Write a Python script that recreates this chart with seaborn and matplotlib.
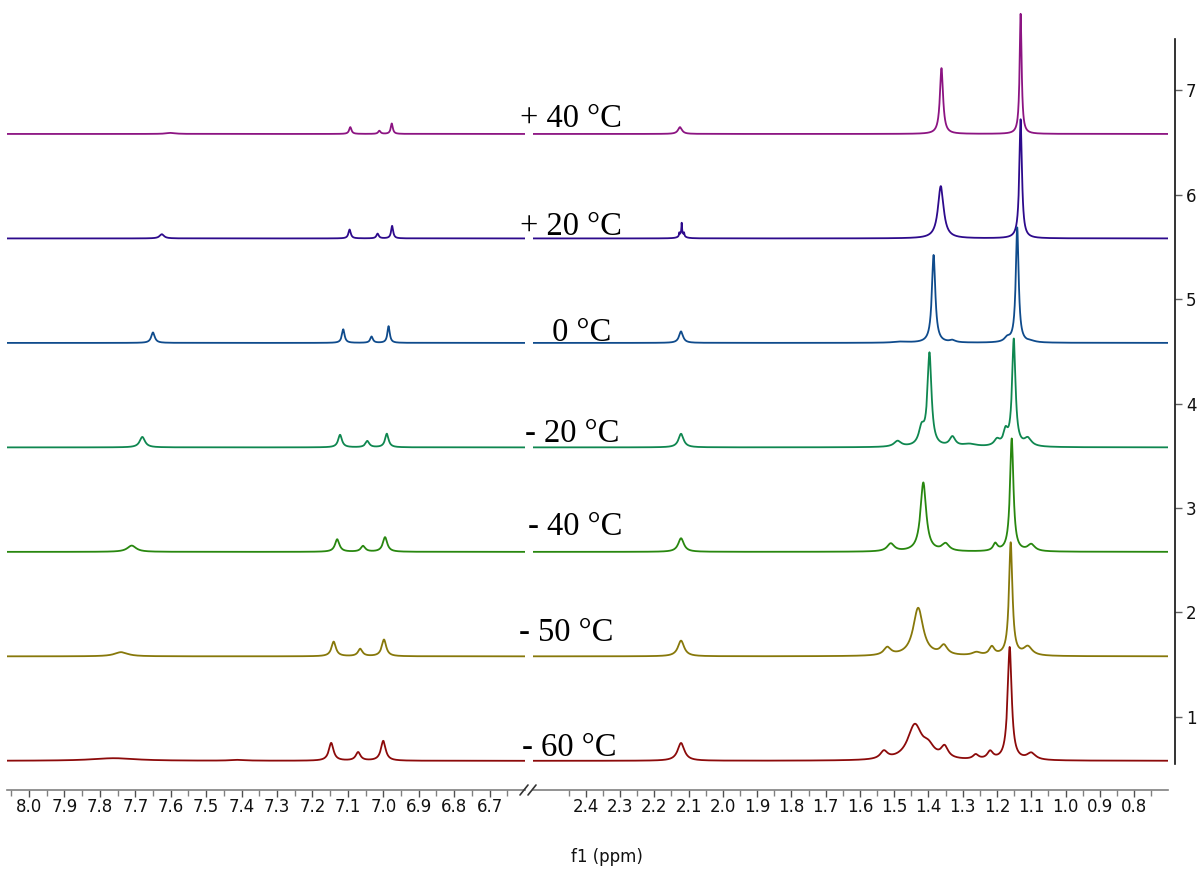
import numpy as np
import pandas as pd
import matplotlib
matplotlib.use("Agg")
import matplotlib.pyplot as plt
from matplotlib.lines import Line2D
from matplotlib.ticker import FixedLocator
import seaborn as sns

# ---------------- data ----------------
temps = ["+ 40 °C", "+ 20 °C", " 0 °C", "- 20 °C", "- 40 °C", "- 50 °C", "- 60 °C"]
offsets = [6.58, 5.58, 4.58, 3.58, 2.58, 1.58, 0.58]
colors = ["#8c1482", "#2d0a8c", "#0f4b8c", "#0f8750", "#28870f", "#87780a", "#8c0a0a"]

# peak tables: (shift ppm, height, FWHM ppm) -- aromatic region
arom_p40 = [(7.60, 0.010, 0.03), (7.093, 0.065, 0.008), (7.011, 0.030, 0.008), (6.976, 0.100, 0.007)]
arom_p20 = [(7.625, 0.040, 0.015), (7.095, 0.085, 0.008), (7.016, 0.045, 0.008), (6.975, 0.120, 0.007)]
arom_0 = [(7.650, 0.100, 0.012), (7.113, 0.130, 0.009), (7.033, 0.060, 0.009), (6.985, 0.160, 0.008)]
arom_m20 = [(7.680, 0.100, 0.018), (7.122, 0.120, 0.013), (7.045, 0.060, 0.013), (6.990, 0.130, 0.012)]
arom_m40 = [(7.710, 0.060, 0.030), (7.130, 0.120, 0.015), (7.057, 0.055, 0.015), (6.995, 0.140, 0.015)]
arom_m50 = [(7.740, 0.040, 0.045), (7.140, 0.140, 0.015), (7.065, 0.070, 0.015), (6.998, 0.160, 0.015)]
arom_m60 = [(7.760, 0.025, 0.150), (7.410, 0.008, 0.050), (7.147, 0.170, 0.016), (7.071, 0.080, 0.016), (7.000, 0.190, 0.016)]

# aliphatic region
aliph_p40 = [(2.125, 0.065, 0.014), (1.362, 0.63, 0.011), (1.131, 1.15, 0.007)]
aliph_p20 = [(2.120, 0.050, 0.015), (2.127, 0.030, 0.002), (2.120, 0.100, 0.002), (2.113, 0.030, 0.002),
             (1.364, 0.50, 0.020), (1.131, 1.14, 0.009)]
aliph_0 = [(2.122, 0.110, 0.014), (1.480, 0.010, 0.050), (1.385, 0.84, 0.012), (1.330, 0.020, 0.020),
           (1.170, 0.040, 0.020), (1.141, 1.10, 0.010), (1.100, 0.010, 0.030)]
aliph_m20 = [(2.122, 0.130, 0.018), (1.490, 0.055, 0.025), (1.420, 0.16, 0.020), (1.397, 0.88, 0.014),
             (1.330, 0.090, 0.020), (1.280, 0.025, 0.050), (1.200, 0.060, 0.020), (1.175, 0.13, 0.015),
             (1.151, 1.02, 0.012), (1.110, 0.075, 0.025)]
aliph_m40 = [(2.122, 0.130, 0.020), (1.510, 0.075, 0.025), (1.415, 0.66, 0.020), (1.350, 0.070, 0.025),
             (1.205, 0.070, 0.015), (1.157, 1.08, 0.012), (1.100, 0.065, 0.025)]
aliph_m50 = [(2.122, 0.150, 0.022), (1.520, 0.075, 0.025), (1.430, 0.46, 0.035), (1.355, 0.090, 0.025),
             (1.260, 0.030, 0.030), (1.215, 0.080, 0.018), (1.160, 1.08, 0.012), (1.110, 0.085, 0.030)]
aliph_m60 = [(2.122, 0.170, 0.024), (1.530, 0.075, 0.025), (1.440, 0.33, 0.050), (1.400, 0.10, 0.040),
             (1.353, 0.110, 0.025), (1.262, 0.045, 0.020), (1.220, 0.075, 0.020), (1.163, 1.08, 0.014),
             (1.100, 0.065, 0.030)]

arom_tables = [arom_p40, arom_p20, arom_0, arom_m20, arom_m40, arom_m50, arom_m60]
aliph_tables = [aliph_p40, aliph_p20, aliph_0, aliph_m20, aliph_m40, aliph_m50, aliph_m60]

left_ticks = [8.0, 7.9, 7.8, 7.7, 7.6, 7.5, 7.4, 7.3, 7.2, 7.1, 7.0, 6.9, 6.8, 6.7]
right_ticks = [2.4, 2.3, 2.2, 2.1, 2.0, 1.9, 1.8, 1.7, 1.6, 1.5, 1.4, 1.3, 1.2, 1.1, 1.0, 0.9, 0.8]
y_ticks = [1, 2, 3, 4, 5, 6, 7]

# ---------------- layout ----------------
W, H = 1198, 869
LEFT_LIM = (8.062, 6.600)
RIGHT_LIM = (2.554, 0.701)
Y_LIM = (0.3008, 7.862)

sns.set_theme(style="white")
plt.rcParams['font.family'] = ['DejaVu Sans']

fig = plt.figure(figsize=(W / 100, H / 100), dpi=100)


def px_axes(x0, x1, y_top, y_bot):
    return fig.add_axes([x0 / W, 1 - y_bot / H, (x1 - x0) / W, (y_bot - y_top) / H])


axL = px_axes(7, 525, 0, 790)
axR = px_axes(533, 1168, 0, 790)


def spectrum(grid, table):
    y = np.zeros_like(grid)
    for c, h, w in table:
        hw = w / 2.0
        y += h * hw ** 2 / ((grid - c) ** 2 + hw ** 2)
    return y


def build(lim, tables, n):
    grid = np.linspace(min(lim), max(lim), n)
    frames = []
    for t, off, tab in zip(temps, offsets, tables):
        frames.append(pd.DataFrame({"ppm": grid, "intensity": spectrum(grid, tab) + off, "temp": t}))
    return pd.concat(frames, ignore_index=True)


dfL = build(LEFT_LIM, arom_tables, 5000)
dfR = build(RIGHT_LIM, aliph_tables, 8000)
pal = dict(zip(temps, colors))

for ax, df in ((axL, dfL), (axR, dfR)):
    sns.lineplot(data=df, x="ppm", y="intensity", hue="temp", palette=pal, ax=ax,
                 estimator=None, sort=False, legend=False, linewidth=1.3)
    ax.set_ylim(*Y_LIM)
    ax.set_xlabel("")
    ax.set_ylabel("")
    ax.patch.set_alpha(0)
    for s in ("top", "left", "right"):
        ax.spines[s].set_visible(False)
    ax.spines["bottom"].set_color("#808080")
    ax.spines["bottom"].set_linewidth(1.2)
    ax.tick_params(axis="x", which="major", direction="out", length=5, width=1,
                   color="#505050", labelsize=12, labelcolor="#111111", pad=1, bottom=True)
    ax.tick_params(axis="x", which="minor", direction="out", length=4, width=1,
                   color="#808080", bottom=True)

axL.set_xlim(*LEFT_LIM)
axL.set_xticks(left_ticks)
axL.set_xticklabels([f"{v:.1f}" for v in left_ticks])
axL.xaxis.set_minor_locator(FixedLocator([round(v + 0.05, 2) for v in left_ticks] + [6.65]))
axL.set_yticks([])

axR.set_xlim(*RIGHT_LIM)
axR.set_xticks(right_ticks)
axR.set_xticklabels([f"{v:.1f}" for v in right_ticks])
axR.xaxis.set_minor_locator(FixedLocator([round(v + 0.05, 2) for v in right_ticks] + [0.75]))

axR.spines["right"].set_visible(True)
axR.spines["right"].set_position(("outward", 5))
axR.spines["right"].set_bounds(0.55, 7.49)
axR.spines["right"].set_color("#111111")
axR.spines["right"].set_linewidth(1.2)
axR.yaxis.tick_right()
axR.set_yticks(y_ticks)
axR.set_yticklabels([str(v) for v in y_ticks])
axR.tick_params(axis="y", which="major", direction="out", length=5, width=1,
                color="#606060", labelsize=12, labelcolor="#111111", pad=3, right=True, left=False)

# temperature labels
label_x = [520, 520, 544, 525, 528, 519, 522]
label_base = [127, 235, 341, 442, 535, 641, 756]
for t, lx, ly in zip(temps, label_x, label_base):
    fig.text(lx / W, 1 - ly / H, t, fontfamily=["Liberation Serif", "DejaVu Serif"],
             fontsize=23.5, color="black", ha="left", va="baseline")

# axis title
fig.text(607 / W, 1 - 857 / H, "f1 (ppm)", ha="center", va="center", fontsize=12, color="#111111")

# break marks on x axis
for bx in (524, 532):
    fig.add_artist(Line2D([(bx - 4) / W, (bx + 4) / W], [1 - 795 / H, 1 - 785 / H],
                          color="#333333", linewidth=1.2, transform=fig.transFigure))

fig.savefig("out.png", dpi=100)
